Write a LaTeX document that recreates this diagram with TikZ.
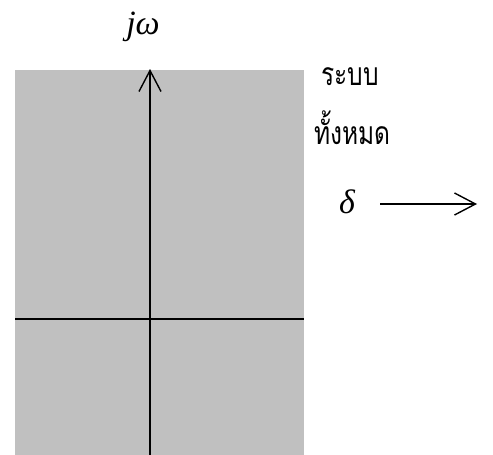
\documentclass[tikz,border=0pt]{standalone}
\usepackage{fontspec}
\usepackage{graphicx}
\setmainfont{Liberation Serif}
\newfontfamily\thaifont[Script=Thai]{Loma}
\usetikzlibrary{arrows.meta}
\definecolor{plane}{HTML}{C0C0C0}
\newcommand{\tallthai}[1]{\scalebox{1}[1.3]{\thaifont\fontsize{24.5}{28}\selectfont #1}}
\tikzset{
  axis/.style={line width=1.4pt, draw=black},
  barb/.style={-{Straight Barb[length=21pt,width=22pt,line width=1.4pt]}},
  mathlbl/.style={font=\fontsize{34}{40}\selectfont\itshape, inner sep=0pt},
  thailbl/.style={inner sep=0pt, anchor=west},
}
\begin{document}
\begin{tikzpicture}[x=1pt,y=-1pt]
\useasboundingbox (0,0) rectangle (493,455);
\fill[plane] (15,70) rectangle (304,455);
\coordinate (vbot) at (150,455);
\coordinate (vtop) at (150,69);
\coordinate (hl) at (15,319);
\coordinate (hr) at (304,319);
\draw[axis,barb] (vbot) -- (vtop);
\draw[axis] (hl) -- (hr);
\node[mathlbl] (jw) at (143,27) {jω};
\node[thailbl] (t1) at (321,77) {\tallthai{ระบบ}};
\node[thailbl] (t2) at (314,128) {\tallthai{ทั้งหมด}};
\node[mathlbl] (d) at (347,202) {δ};
\coordinate (ds) at (380,204);
\coordinate (de) at (477,204);
\draw[line width=1.2pt,barb] (ds) -- (de);
\end{tikzpicture}
\end{document}
